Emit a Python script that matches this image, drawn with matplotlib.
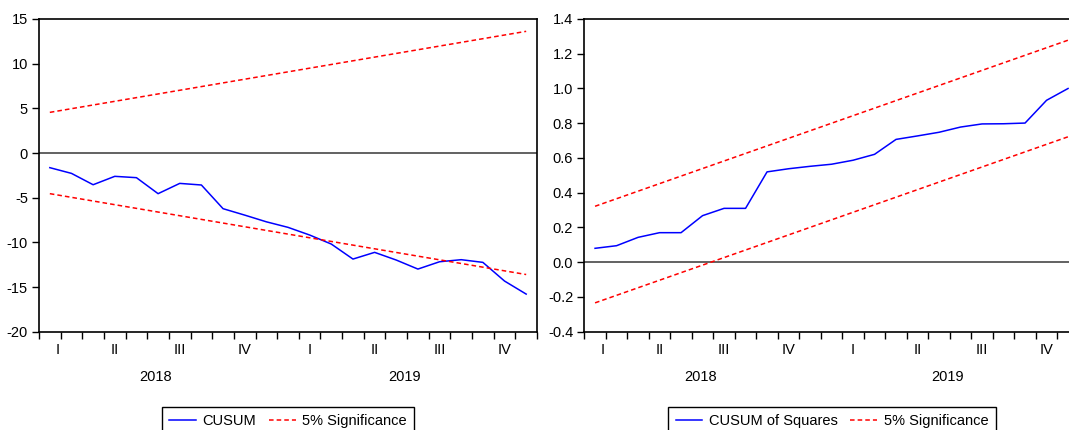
import matplotlib
matplotlib.use("Agg")
import matplotlib.pyplot as plt
import matplotlib.transforms as mtransforms
import numpy as np
import pandas as pd

plt.rcParams["font.family"] = ["Liberation Sans", "DejaVu Sans"]
plt.rcParams["font.size"] = 10.5

# ── data (monthly, 2018M02 – 2019M12) ─────────────────────────────────────────
months = pd.period_range("2018-02", "2019-12", freq="M")

cusum = [-1.64, -2.28, -3.55, -2.61, -2.76, -4.55, -3.40, -3.58, -6.23, -6.95,
         -7.70, -8.32, -9.18, -10.19, -11.87, -11.12, -11.98, -12.99, -12.17,
         -11.94, -12.24, -14.33, -15.79]
cusum_upper = [4.55, 13.62]     # first / last obs
cusum_lower = [-4.55, -13.60]

cusumsq = [0.080, 0.095, 0.143, 0.170, 0.170, 0.268, 0.310, 0.310, 0.520, 0.538,
           0.552, 0.564, 0.587, 0.621, 0.707, 0.727, 0.748, 0.778, 0.796, 0.797,
           0.801, 0.932, 1.000]
cusumsq_upper = [0.322, 1.278]
cusumsq_lower = [-0.234, 0.722]

ROMAN = {1: "I", 2: "II", 3: "III", 4: "IV"}
BLUE, RED = "#0000FF", "#FF0000"

W, H = 1069, 430


def draw_panel(ax, series, upper, lower, label, ylim, yticks, yfmt):
    x = np.arange(len(months))
    ends = [x[0], x[-1]]
    ax.plot(x, series, color=BLUE, lw=1.1, label=label)
    ax.plot(ends, upper, color=RED, lw=1.1, dashes=(3, 2), label="5% Significance")
    ax.plot(ends, lower, color=RED, lw=1.1, dashes=(3, 2))
    ax.axhline(0, color="#555555", lw=1.3, zorder=1)

    ax.set_xlim(-0.5, len(months) - 0.5)
    ax.set_ylim(*ylim)
    ax.set_yticks(yticks)
    ax.set_yticklabels([yfmt.format(v) for v in yticks])

    # month boundaries as tick marks, quarter names as tickless minor labels
    ax.xaxis.remove_overlapping_locs = False
    ax.set_xticks(np.arange(len(months) + 1) - 0.5)
    ax.set_xticklabels([])
    qs = pd.Series(x, index=[(m.year, m.quarter) for m in months])
    qcent = qs.groupby(level=0).mean()
    # the clipped first quarter sits a little left of its visible centre
    qpos = [c - 0.15 if c % 1 else c for c in qcent.values]
    ax.set_xticks(qpos, minor=True)
    ax.set_xticklabels([ROMAN[q] for (_, q) in qcent.index], minor=True)
    ax.tick_params(axis="x", which="major", length=5, width=1, direction="out")
    ax.tick_params(axis="x", which="minor", length=0, pad=8)
    ax.tick_params(axis="y", length=5, width=1, direction="out", pad=3)

    trans = mtransforms.blended_transform_factory(ax.transData, ax.transAxes)
    ys = pd.Series(x, index=[m.year for m in months]).groupby(level=0).mean()
    for yr, xc in ys.items():
        ax.text(xc - 0.1, -0.144, str(yr), transform=trans, ha="center", va="center")

    for s in ax.spines.values():
        s.set_linewidth(1.2)
        s.set_color("black")


fig = plt.figure(figsize=(W / 100, H / 100), dpi=100)

ax1 = fig.add_axes([39 / W, 98.3 / H, 498 / W, 312.7 / H])
draw_panel(ax1, cusum, cusum_upper, cusum_lower, "CUSUM",
           (-20, 15), list(range(-20, 16, 5)), "{:d}")

ax2 = fig.add_axes([584.3 / W, 98.3 / H, 494.5 / W, 312.7 / H])
draw_panel(ax2, cusumsq, cusumsq_upper, cusumsq_lower, "CUSUM of Squares",
           (-0.4, 1.4), list(np.round(np.arange(-0.4, 1.41, 0.2), 1)), "{:.1f}")

for ax, xc in [(ax1, 288 / W), (ax2, 832 / W)]:
    leg = fig.legend(*ax.get_legend_handles_labels(), loc="upper center",
                     bbox_to_anchor=(xc, 23 / H), ncol=2, frameon=True,
                     fancybox=False, edgecolor="black", framealpha=1,
                     handlelength=1.85, handletextpad=0.45, columnspacing=0.85,
                     borderpad=0.5, borderaxespad=0)
    leg.get_frame().set_linewidth(1.0)

fig.savefig("out.png", dpi=100)
